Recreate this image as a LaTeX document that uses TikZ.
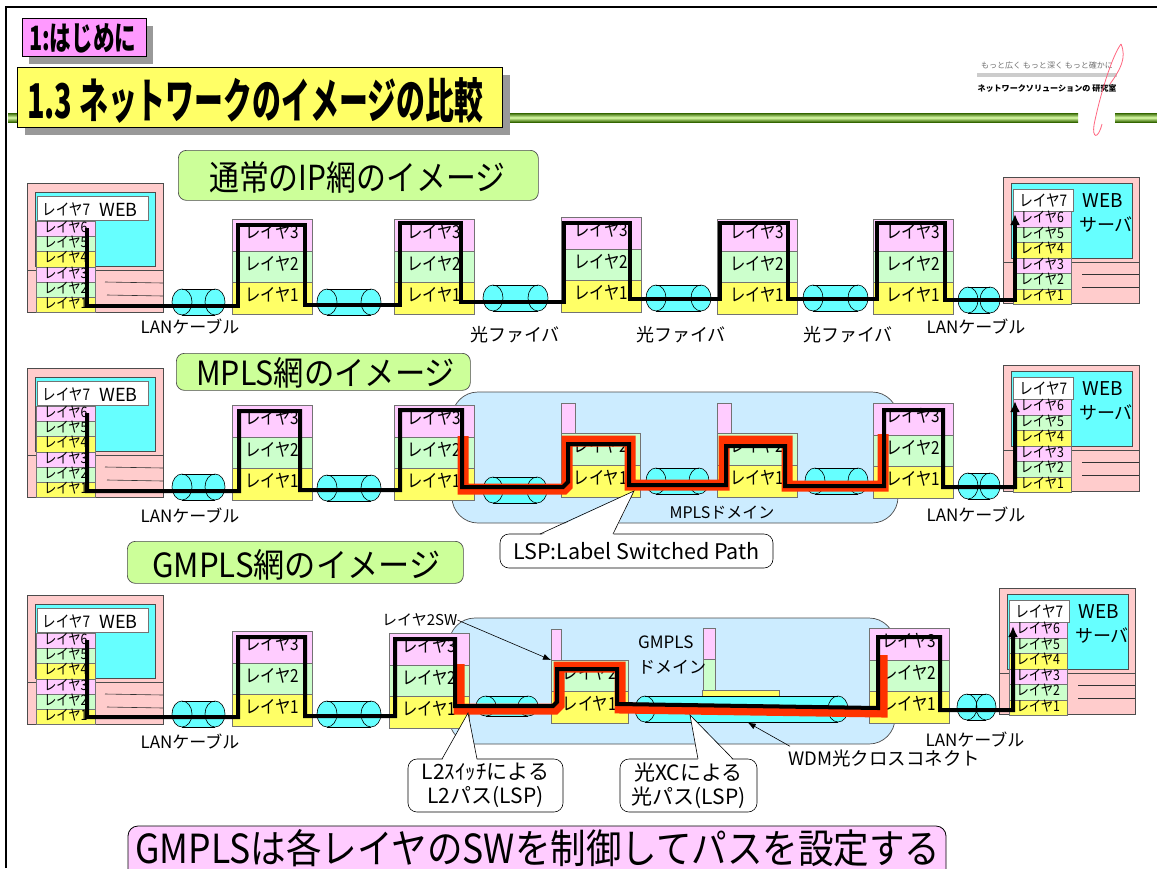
\documentclass[tikz,border=0pt]{standalone}
\usepackage{fontspec}
\usepackage{graphicx}
\setmainfont{Noto Sans CJK JP}[CharacterWidth=Proportional]
\newfontfamily\narrowfont{Noto Sans CJK JP}[CharacterWidth=Proportional, FakeStretch=0.85]
\usetikzlibrary{arrows.meta}

\definecolor{lpink}{HTML}{FFCCFF}
\definecolor{lgreen}{HTML}{CCFFCC}
\definecolor{lyellow}{HTML}{FFFF66}
\definecolor{pcpink}{HTML}{FFCCCC}
\definecolor{scrcyan}{HTML}{66FFFF}
\definecolor{domblue}{HTML}{CCECFF}
\definecolor{lspred}{HTML}{FF3300}
\definecolor{hdrpink}{HTML}{FF99FF}
\definecolor{hdryellow}{HTML}{FFFF66}
\definecolor{secgreen}{HTML}{CCFF99}
\definecolor{shadowgray}{HTML}{999999}
\definecolor{rulegreen}{HTML}{336600}
\definecolor{rulelight}{HTML}{DDFFAA}
\definecolor{logopink}{HTML}{FF6680}

\tikzset{
  lyr/.style={draw=black!55, line width=0.5pt, inner sep=0pt, anchor=north west},
  rlab/.style={font=\narrowfont\fontsize{18}{18}\selectfont, text height=0.8em, text depth=0.08em},
  plab/.style={font=\narrowfont\fontsize{14.5}{14.5}\selectfont, text height=0.8em, text depth=0.06em},
  pcbox/.style={draw=black!70, line width=0.6pt, fill=pcpink},
  screen/.style={draw=black!70, line width=0.6pt, fill=scrcyan},
  blkpath/.style={line width=4pt, line join=miter, draw=black},
  redpath/.style={line width=11pt, line join=miter, draw=lspred},
  note/.style={font=\fontsize{17}{17}\selectfont, inner sep=0pt},
  fib/.style={font=\fontsize{18}{18}\selectfont, inner sep=0pt},
  ptr/.style={-{Latex[length=8pt,width=6pt]}, line width=0.6pt},
  uparrow/.style={-{Latex[length=11pt,width=10pt]}},
  balloon/.style={draw=black, line width=0.6pt, fill=white, rounded corners=9pt, inner sep=0pt},
  secbox/.style={draw=black!70, line width=0.7pt, fill=secgreen, rounded corners=8pt},
  domainbox/.style={draw=black!70, line width=0.7pt, fill=domblue, rounded corners=26pt},
  l7font/.style={font=\narrowfont\fontsize{16}{16}\selectfont},
}

% router: three stacked layers; #1 left x, #2 top y, #3 name
\newcommand\router[3]{%
  \node[lyr, fill=lpink, minimum width=80pt, minimum height=31.5pt, rlab] (#3-3) at (#1,#2) {レイヤ3};
  \node[lyr, fill=lgreen, minimum width=80pt, minimum height=31.5pt, rlab] (#3-2) at (#1,#2+31.5) {レイヤ2};
  \node[lyr, fill=lyellow, minimum width=80pt, minimum height=31.5pt, rlab] (#3-1) at (#1,#2+63) {レイヤ1};
}

% client PC on the left; #1 vertical offset, #2 name
\newcommand\leftpc[2]{%
\begin{scope}[shift={(0,#1)}]
  \draw[pcbox] (27,183) rectangle (163,275);
  \draw[screen] (35,192) rectangle (155,266);
  \draw[pcbox] (27,270) rectangle (163,312);
  \draw[black!80, line width=0.6pt] (105,282) -- (163,283) (107,295) -- (163,296);
  \node[lyr, fill=white, minimum width=111pt, minimum height=24pt] (#2-7) at (37,196) {};
  \node[anchor=west, inner sep=0pt, l7font] (#2-7t) at (42,209) {レイヤ7};
  \node[anchor=west, inner sep=0pt, font=\fontsize{18}{18}\selectfont] (#2-web) at (99,210) {WEB};
  \foreach \i/\c/\t in {0/lpink/6,1/lgreen/5,2/lyellow/4,3/lpink/3,4/lgreen/2,5/lyellow/1}
    \node[lyr, fill=\c, minimum width=59pt, minimum height=15.2pt, plab] (#2-\t) at (36,221+\i*15.2) {レイヤ\t};
\end{scope}}

% web server on the right; #1 x offset, #2 y offset, #3 name
\newcommand\rightpc[3]{%
\begin{scope}[shift={(#1,#2)}]
  \draw[pcbox] (1003,177) rectangle (1139,262);
  \draw[screen] (1011,183) rectangle (1132,258);
  \draw[pcbox] (1003,262) rectangle (1139,303);
  \draw[black!80, line width=0.6pt] (1082,274) -- (1139,274) (1082,287) -- (1139,287);
  \node[lyr, fill=white, minimum width=60pt, minimum height=22pt, l7font] (#3-7) at (1013,189) {レイヤ7};
  \node[inner sep=0pt, font=\fontsize{19}{19}\selectfont] (#3-web) at (1103,201) {WEB};
  \node[inner sep=0pt, font=\fontsize{18}{18}\selectfont] (#3-srv) at (1106,225) {サーバ};
  \foreach \i/\c/\t in {0/lpink/6,1/lgreen/5,2/lyellow/4,3/lpink/3,4/lgreen/2,5/lyellow/1}
    \node[lyr, fill=\c, minimum width=58pt, minimum height=15.5pt, plab] (#3-\t) at (1013,211+\i*15.5) {レイヤ\t};
\end{scope}}

% cable drawn as a horizontal cylinder; #1 left, #2 right, #3 centre y, #4 half height
\newcommand\cable[4]{%
  \fill[scrcyan] (#1+10,#3-#4) rectangle (#2-10,#3+#4);
  \fill[scrcyan] (#1+10,#3) ellipse [x radius=10pt, y radius=#4pt];
  \fill[scrcyan] (#2-10,#3) ellipse [x radius=10pt, y radius=#4pt];
  \draw[line width=0.6pt] (#1+10,#3) ellipse [x radius=10pt, y radius=#4pt]
                          (#2-10,#3) ellipse [x radius=10pt, y radius=#4pt];
  \draw[line width=0.6pt] (#1+10,#3-#4) -- (#2-10,#3-#4) (#1+10,#3+#4) -- (#2-10,#3+#4);
}

\begin{document}
\begin{tikzpicture}[x=1pt,y=-1pt]
\useasboundingbox (0,0) rectangle (1157,868);
\fill[white] (0,0) rectangle (1157,868);

% ---------- header ----------
\shade[top color=rulegreen, bottom color=rulegreen, middle color=rulelight] (8,113) rectangle (1078,122);
\shade[top color=rulegreen, bottom color=rulegreen, middle color=rulelight] (1115,113) rectangle (1157,122);

\fill[shadowgray] (29,26) rectangle (153,64);
\node[draw=black, line width=0.7pt, fill=hdrpink, minimum width=124pt, minimum height=38pt, inner sep=0pt, anchor=north west] (chap) at (22,18) {};
\node[anchor=base west, inner sep=0pt] (chaptext) at (29,50) {\resizebox{107pt}{27pt}{\bfseries 1:はじめに}};

\fill[shadowgray] (25,75) rectangle (510,135);
\node[draw=black, line width=0.7pt, fill=hdryellow, minimum width=485pt, minimum height=60pt, inner sep=0pt, anchor=north west] (title) at (17,67) {};
\node[anchor=base west, inner sep=0pt] (titletext) at (27,118) {\resizebox{456pt}{41pt}{\bfseries 1.3 ネットワークのイメージの比較}};

% logo
\node[inner sep=0pt, text=black!55] (motto) at (1047,65) {\resizebox{132pt}{!}{もっと広く もっと深く もっと確かに}};
\fill[black!20] (977,73) rectangle (1117,77);
\node[inner sep=0pt] (lab) at (1047,88) {\resizebox{139pt}{!}{\bfseries ネットワークソリューションの 研究室}};
\draw[logopink, line width=0.8pt] (1121,44) .. controls (1112,56) and (1100,95) .. (1094,125)
      .. controls (1092,138) and (1098,140) .. (1102,124);
\draw[logopink, line width=0.8pt] (1121,44) .. controls (1127,58) and (1120,70) .. (1110,84);

% ---------- section 1: IP network ----------
\node[secbox, minimum width=360pt, minimum height=50pt, anchor=north west] (secA) at (178,150) {};
\node[anchor=base west, inner sep=0pt] (secAt) at (209,190) {\resizebox{296pt}{29pt}{通常のIP網のイメージ}};

\cable{172}{225}{302}{13}
\cable{317}{381}{302}{13}
\cable{483}{548}{298}{13}
\cable{646}{711}{298}{13}
\cable{803}{868}{298}{13}
\cable{958}{1000}{300}{13}

\leftpc{0}{pcA}
\router{232}{219}{a1}
\router{394}{219}{a2}
\router{561}{217}{a3}
\router{717}{219}{a4}
\router{873}{219}{a5}
\rightpc{0}{0}{pcB}

\draw[blkpath, uparrow] (87,228) -- (87,306) -- (238,306) -- (238,225) -- (305,225) -- (305,305)
  -- (400,305) -- (400,223) -- (461,223) -- (461,302) -- (564,302) -- (564,223) -- (630,223)
  -- (630,299) -- (720,299) -- (720,223) -- (788,223) -- (788,299) -- (877,299) -- (877,223)
  -- (945,223) -- (945,300) -- (1015,300) -- (1015,214);

\node[note] (lanA1) at (190,327) {LANケーブル};
\node[fib] (fibA1) at (515,335) {光ファイバ};
\node[fib] (fibA2) at (681,335) {光ファイバ};
\node[fib] (fibA3) at (848,335) {光ファイバ};
\node[note] (lanA2) at (976,327) {LANケーブル};

% ---------- section 2: MPLS network ----------
\node[secbox, minimum width=294pt, minimum height=37pt, anchor=north west] (secB) at (176,353) {};
\node[anchor=base west, inner sep=0pt] (secBt) at (196,385) {\resizebox{259pt}{28pt}{MPLS網のイメージ}};

\draw[domainbox] (452,392) rectangle (898,523);

% label switches
\node[lyr, fill=lpink, minimum width=14pt, minimum height=30pt] (bs1-3) at (561,403) {};
\node[lyr, fill=lgreen, minimum width=79pt, minimum height=32pt, rlab] (bs1-2) at (561,433) {レイヤ2};
\node[lyr, fill=lyellow, minimum width=79pt, minimum height=32pt, rlab] (bs1-1) at (561,465) {レイヤ1};
\node[lyr, fill=lpink, minimum width=14pt, minimum height=30pt] (bs2-3) at (717,403) {};
\node[lyr, fill=lgreen, minimum width=80pt, minimum height=32pt, rlab] (bs2-2) at (717,433) {レイヤ2};
\node[lyr, fill=lyellow, minimum width=80pt, minimum height=32pt, rlab] (bs2-1) at (717,465) {レイヤ1};

\cable{172}{225}{487}{13}
\cable{317}{381}{488}{13}
\cable{483}{547}{490}{13}
\cable{646}{709}{481}{13}
\cable{805}{868}{481}{13}
\cable{958}{1000}{486}{13}

\leftpc{185}{pcC}
\router{232}{405}{b1}
\router{394}{405}{b2}
\router{873}{403}{b5}
\rightpc{0}{188}{pcD}

\draw[redpath] (463,436) -- (463,489) -- (564,489) -- (567,486) -- (567,441) -- (630,441)
  -- (630,485) -- (724,485) -- (724,441) -- (787,441) -- (787,486) -- (883,486) -- (883,434);
\draw[blkpath, uparrow] (87,413) -- (87,491) -- (239,491) -- (239,411) -- (300,411) -- (300,490)
  -- (400,490) -- (400,410) -- (462,410) -- (462,487) -- (563,487) -- (568,482) -- (568,444)
  -- (629,444) -- (629,485) -- (726,485) -- (726,446) -- (785,446) -- (785,486) -- (884,486)
  -- (884,410) -- (943,410) -- (943,487) -- (1015,487) -- (1015,401);

\node[note] (lanB1) at (190,516) {LANケーブル};
\node[note] (lanB2) at (976,515) {LANケーブル};
\node[inner sep=0pt, font=\fontsize{16}{16}\selectfont] (mplsdom) at (722,513) {MPLSドメイン};

\node[balloon, minimum width=273pt, minimum height=34pt, font=\fontsize{21.5}{21.5}\selectfont] (lsp) at (636.5,551) {LSP:Label Switched Path};
\coordinate (lsptip) at (634,491);
\fill[white] (540,535.6) -- (lsptip) -- (613,535.6) -- cycle;
\draw[line width=0.6pt] (540,534) -- (lsptip) -- (613,534);

% ---------- section 3: GMPLS network ----------
\node[secbox, minimum width=336pt, minimum height=42pt, anchor=north west] (secC) at (127,541) {};
\node[anchor=base west, inner sep=0pt] (secCt) at (152,577) {\resizebox{288pt}{28pt}{GMPLS網のイメージ}};

\draw[domainbox] (449,618) rectangle (895,744);

% layer-2 switch
\node[lyr, fill=lpink, minimum width=10pt, minimum height=31pt] (cs1-3) at (551,629) {};
\node[lyr, fill=lgreen, minimum width=77pt, minimum height=31pt, rlab] (cs1-2) at (551,660) {レイヤ2};
\node[lyr, fill=lyellow, minimum width=77pt, minimum height=32pt, rlab] (cs1-1) at (551,691) {レイヤ1};
% optical cross-connect
\node[lyr, fill=lpink, minimum width=12pt, minimum height=31pt] (xc-3) at (703,628) {};
\node[lyr, fill=lgreen, minimum width=12pt, minimum height=31pt] (xc-2) at (703,659) {};
\node[lyr, fill=lyellow, minimum width=77pt, minimum height=29pt] (xc-1) at (702,690) {};

\cable{172}{225}{714}{13}
\cable{317}{381}{714}{13}
\cable{476}{538}{706}{10}
\cable{635}{848}{709}{13}
\cable{957}{996}{707}{13}

\leftpc{412}{pcE}
\router{232}{631}{c1}
\router{389}{633}{c2}
\router{869}{628}{c5}
\rightpc{-4}{411}{pcF}

\draw[redpath] (459,664) -- (459,709) -- (555,709) -- (559,705) -- (559,667) -- (620,667)
  -- (620,708) -- (882,712) -- (882,655);
\draw[blkpath, uparrow] (87,640) -- (87,717) -- (238,717) -- (238,637) -- (305,637) -- (305,716)
  -- (395,716) -- (395,639) -- (455,639) -- (455,706) -- (553,706) -- (557,702) -- (557,669)
  -- (617,669) -- (617,704) -- (878,708) -- (878,637) -- (940,637) -- (940,710) -- (1013,710)
  -- (1013,626);

\node[note] (lanC1) at (190,742) {LANケーブル};
\node[note] (lanC2) at (975,740) {LANケーブル};

\node[anchor=west, inner sep=0pt, font=\fontsize{17}{17}\selectfont] (gdom1) at (638,642) {GMPLS};
\node[anchor=west, inner sep=0pt, font=\fontsize{17}{17}\selectfont] (gdom2) at (638,667) {ドメイン};

\node[anchor=west, inner sep=0pt, font=\fontsize{15}{15}\selectfont] (l2sw) at (382,620) {レイヤ2SW};
\draw[ptr] (l2sw.east) -- (cs1-2.north west);

\node[anchor=west, inner sep=0pt, font=\fontsize{18.5}{18.5}\selectfont] (wdm) at (788,758) {WDM光クロスコネクト};
\draw[ptr] ([xshift=2pt,yshift=3pt]wdm.north west) -- ([xshift=7pt,yshift=-3pt]xc-1.south);

\node[balloon, minimum width=155pt, minimum height=53pt, align=center, font=\fontsize{21}{24}\selectfont] (l2call) at (485.5,785.5) {L2ｽｲｯﾁによる\\L2パス(LSP)};
\coordinate (l2tip) at (468,713);
\fill[white] (442,760.6) -- (l2tip) -- (477,760.6) -- cycle;
\draw[line width=0.6pt] (442,759) -- (l2tip) -- (477,759);

\node[balloon, minimum width=137pt, minimum height=53pt, align=center, font=\fontsize{21}{24}\selectfont] (xccall) at (688.5,785.5) {光XCによる\\光パス(LSP)};
\coordinate (xctip) at (690,715);
\fill[white] (698,760.6) -- (xctip) -- (733,760.6) -- cycle;
\draw[line width=0.6pt] (698,759) -- (xctip) -- (733,759);

% ---------- conclusion ----------
\draw[line width=0.8pt, fill=lpink, rounded corners=10pt] (128,826) rectangle (946,885);
\node[anchor=base west, inner sep=0pt] (concl) at (135,863) {\resizebox{805pt}{34pt}{GMPLSは各レイヤのSWを制御してパスを設定する}};

% page frame
\draw[line width=2pt] (6,868) -- (6,7) -- (1157,7);
\end{tikzpicture}
\end{document}
